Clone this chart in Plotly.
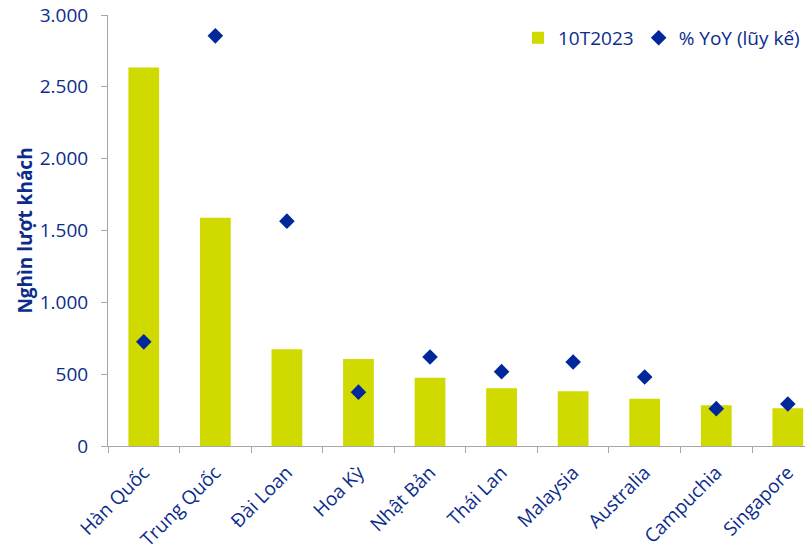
import plotly.graph_objects as go

# International arrivals by source market, first 10 months of 2023
markets = ["Hàn Quốc", "Trung Quốc", "Đài Loan", "Hoa Kỳ", "Nhật Bản",
           "Thái Lan", "Malaysia", "Australia", "Campuchia", "Singapore"]
arrivals_10t2023 = [2635, 1589, 673, 605, 475, 402, 381, 329, 283, 262]  # thousand visitors
yoy_cumulative = [290, 1142, 626, 150, 248, 207, 234, 192, 104, 117]     # % YoY (year to date)

y_ticks = [0, 500, 1000, 1500, 2000, 2500, 3000]

BAR_COLOR = "#D0DA00"
MARK_COLOR = "#00289A"
TEXT_COLOR = "#0B2C8C"
AXIS_COLOR = "#A6A6A6"
FONT = "Open Sans"

fig = go.Figure()

fig.add_trace(go.Bar(
    x=markets, y=arrivals_10t2023, name="10T2023",
    marker=dict(color=BAR_COLOR, line=dict(width=0)),
    yaxis="y",
))

fig.add_trace(go.Scatter(
    x=markets, y=yoy_cumulative, name="% YoY (lũy kế)",
    mode="markers",
    marker=dict(symbol="diamond", size=12, color=MARK_COLOR),
    yaxis="y2",
))

fig.update_layout(
    width=805, height=552,
    margin=dict(l=108, r=0, t=15, b=106),
    paper_bgcolor="white", plot_bgcolor="white",
    separators=",.",
    font=dict(family=FONT, size=19, color=TEXT_COLOR),
    bargap=0.57,
    showlegend=True,
    legend=dict(
        orientation="h", x=1.0, xanchor="right", y=0.947, yanchor="middle",
        font=dict(family=FONT, size=19, color=TEXT_COLOR),
        bgcolor="rgba(0,0,0,0)", itemsizing="constant", itemwidth=30,
    ),
    xaxis=dict(
        range=[-0.5, 9.24],
        tickangle=-45,
        tickson="boundaries",
        ticks="outside", ticklen=6, tickcolor=AXIS_COLOR,
        ticklabelstandoff=7,
        showline=True, linecolor=AXIS_COLOR, linewidth=1,
        showgrid=False,
        tickfont=dict(family=FONT, size=19, color=TEXT_COLOR),
    ),
    yaxis=dict(
        range=[0, 3000],
        tickvals=y_ticks,
        tickformat=",d",
        ticks="outside", ticklen=6, tickcolor=AXIS_COLOR,
        ticklabelstandoff=9,
        showline=True, linecolor=AXIS_COLOR, linewidth=1,
        showgrid=False, zeroline=False,
        tickfont=dict(family=FONT, size=19, color=TEXT_COLOR),
        title=dict(text="<b>Nghìn lượt khách</b>",
                   font=dict(family=FONT, size=19, color=TEXT_COLOR),
                   standoff=2),
    ),
    yaxis2=dict(
        overlaying="y", side="right", range=[0, 1200],
        visible=False, showgrid=False,
    ),
)

fig.write_html("out.html")
